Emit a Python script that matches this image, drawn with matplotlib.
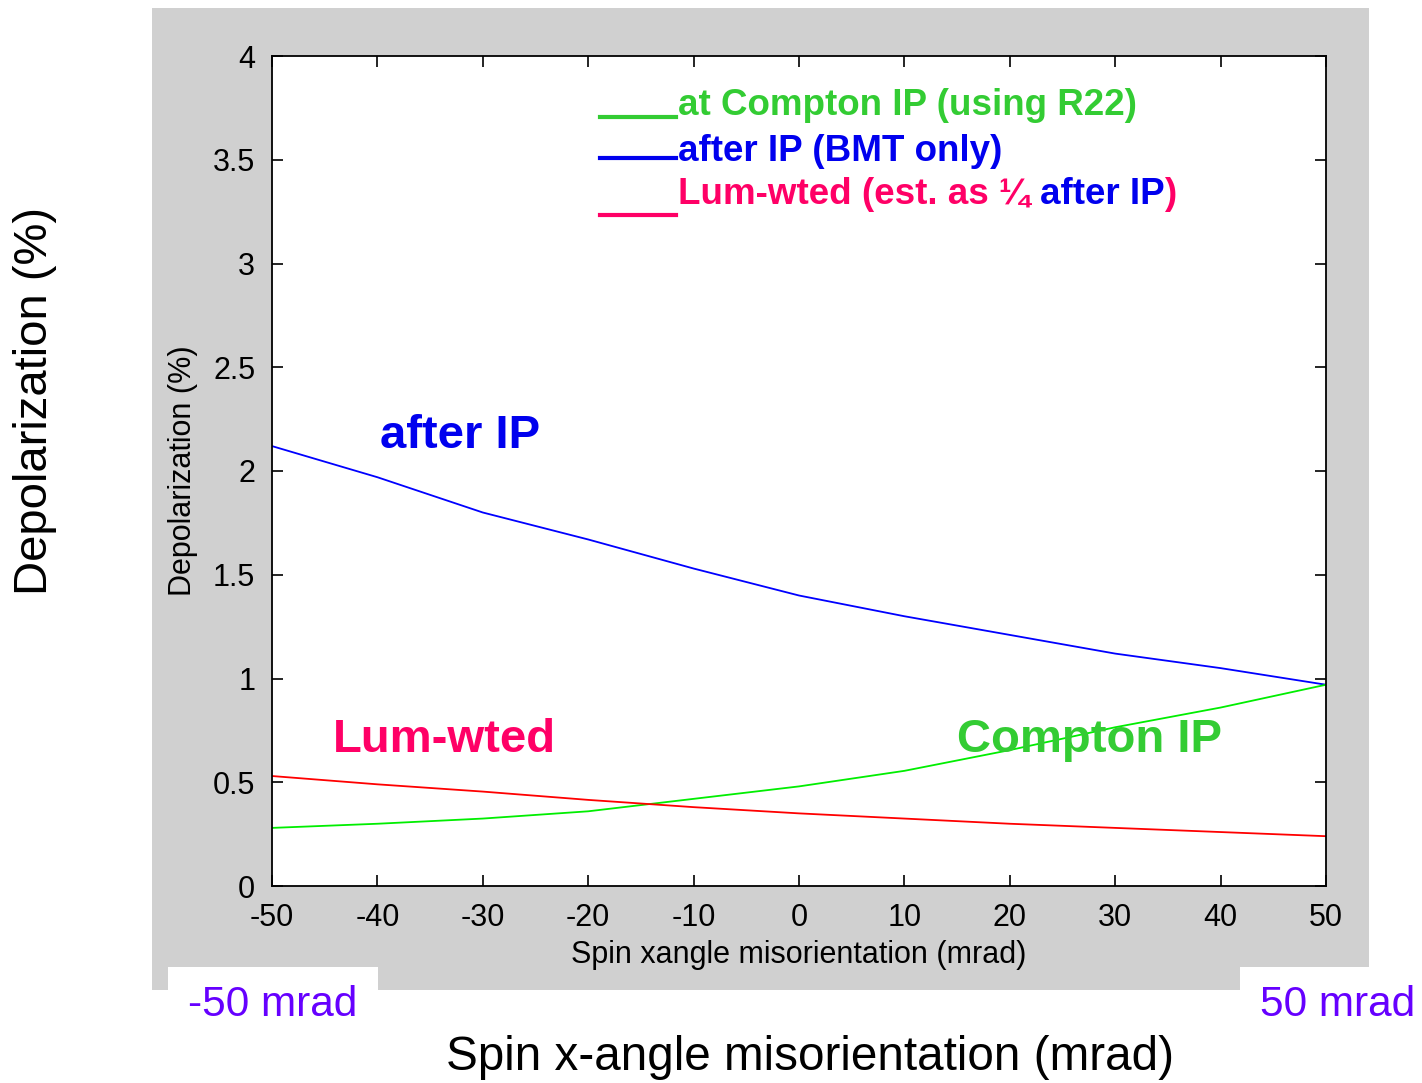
import matplotlib
matplotlib.use("Agg")
import matplotlib.pyplot as plt
from matplotlib.patches import Rectangle
from matplotlib.lines import Line2D

# spin x-angle misorientation (mrad)
xangle = [-50, -40, -30, -20, -10, 0, 10, 20, 30, 40, 50]
# depolarization (%)
after_ip = [2.12, 1.97, 1.80, 1.67, 1.53, 1.40, 1.30, 1.21, 1.12, 1.05, 0.97]
compton_ip = [0.28, 0.30, 0.325, 0.36, 0.42, 0.48, 0.555, 0.655, 0.765, 0.86, 0.97]
lum_wted = [0.53, 0.49, 0.455, 0.415, 0.38, 0.35, 0.325, 0.30, 0.28, 0.26, 0.24]

xticks = [-50, -40, -30, -20, -10, 0, 10, 20, 30, 40, 50]
yticks = [0, 0.5, 1, 1.5, 2, 2.5, 3, 3.5, 4]
yticklabels = ["0", "0.5", "1", "1.5", "2", "2.5", "3", "3.5", "4"]

W, H = 1422, 1083
plt.rcParams["font.family"] = ["Liberation Sans", "DejaVu Sans"]
plt.rcParams["axes.unicode_minus"] = False

fig = plt.figure(figsize=(W / 100, H / 100), dpi=100)

def fx(px):
    return px / W

def fy(py):
    return 1 - py / H

# grey matlab figure background + white cut-outs at bottom corners
fig.patches.append(Rectangle((fx(152), fy(990)), fx(1369) - fx(152), fy(8) - fy(990),
                             transform=fig.transFigure, facecolor="#d0d0d0", edgecolor="none", zorder=0))
for x0, x1 in [(168, 378), (1240, 1372)]:
    fig.patches.append(Rectangle((fx(x0), fy(995)), fx(x1) - fx(x0), fy(967) - fy(995),
                                 transform=fig.transFigure, facecolor="white", edgecolor="none", zorder=1))

ax = fig.add_axes([fx(272), fy(886), fx(1326) - fx(272), fy(56) - fy(886)])
ax.set_zorder(2)
ax.plot(xangle, after_ip, color="#0000ff", lw=1.3)
ax.plot(xangle, compton_ip, color="#00ee00", lw=1.3)
ax.plot(xangle, lum_wted, color="#ff0000", lw=1.3)

ax.set_xlim(-50, 50)
ax.set_ylim(0, 4)
ax.set_xticks(xticks)
ax.set_yticks(yticks)
ax.set_yticklabels(yticklabels)
ax.tick_params(direction="in", length=8, width=1.2, labelsize=22, pad=12,
               top=True, right=True, colors="black")
for s in ax.spines.values():
    s.set_linewidth(1.3)

ax.set_xlabel("Spin xangle misorientation (mrad)", fontsize=22)
ax.set_ylabel("Depolarization (%)", fontsize=22)
ax.xaxis.set_label_coords(0.5, -0.065)
ax.yaxis.set_label_coords(-0.070, 0.5)

# in-plot labels
ax.text(-39.8, 2.17, "after IP", color="#0000ee", fontsize=34, fontweight="bold", va="center")
ax.text(-44.2, 0.705, "Lum-wted", color="#ff0066", fontsize=34, fontweight="bold", va="center")
ax.text(15.0, 0.705, "Compton IP", color="#33cc33", fontsize=34, fontweight="bold", va="center")

# hand-made legend
green_t, blue_t, pink_t = "#33cc33", "#0000ee", "#ff0066"
for ly, c in [(117, green_t), (158, blue_t), (215, pink_t)]:
    fig.lines.append(Line2D([fx(600), fx(676)], [fy(ly), fy(ly)], color=c, lw=3,
                            transform=fig.transFigure, zorder=5))
fs = 26.5
fig.text(fx(678), fy(115), "at Compton IP (using R22)", color=green_t, fontsize=fs,
         fontweight="bold", va="baseline", zorder=5)
fig.text(fx(678), fy(161), "after IP (BMT only)", color=blue_t, fontsize=fs,
         fontweight="bold", va="baseline", zorder=5)
r = fig.canvas.get_renderer()
xpos = 678
for chunk, c in [("Lum-wted (est. as \u00bc ", pink_t), ("after IP", blue_t), (")", pink_t)]:
    t = fig.text(fx(xpos), fy(204), chunk, color=c, fontsize=fs, fontweight="bold",
                 va="baseline", zorder=5)
    bb = t.get_window_extent(renderer=r)
    xpos += bb.width

# outer slide labels
fig.text(fx(35), fy(401), "Depolarization (%)", fontsize=34, rotation=90, ha="center", va="center")
fig.text(fx(810), fy(1057), "Spin x-angle misorientation (mrad)", fontsize=34.3, ha="center", va="center")
fig.text(fx(188), fy(1005), "-50 mrad", fontsize=30.5, color="#6600ff", ha="left", va="center", zorder=3)
fig.text(fx(1260), fy(1005), "50 mrad", fontsize=30.5, color="#6600ff", ha="left", va="center", zorder=3)

fig.savefig("out.png", dpi=100)
